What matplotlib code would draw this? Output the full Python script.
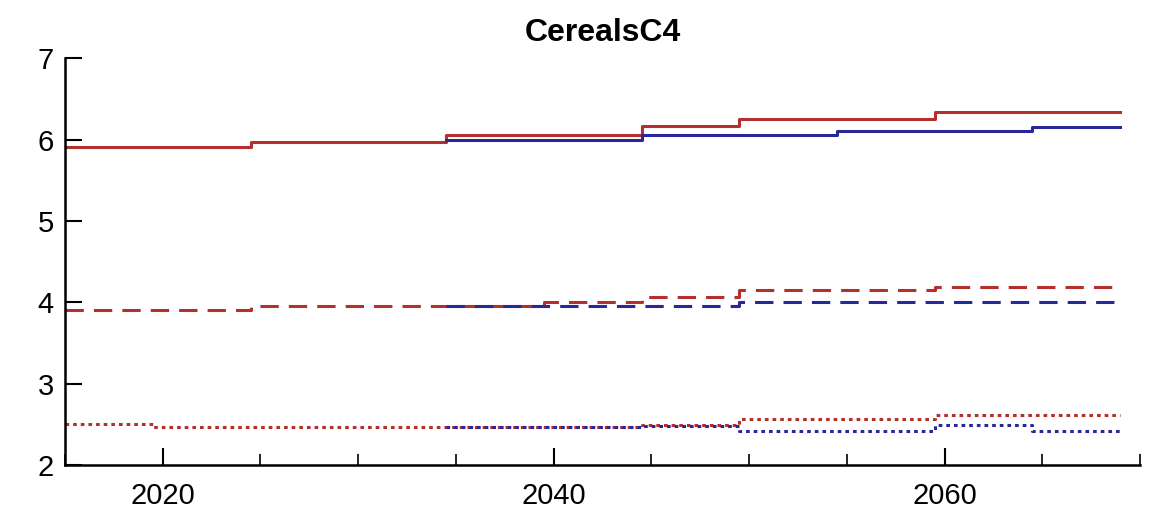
# CerealsC4 step chart
import matplotlib
matplotlib.use("Agg")
import matplotlib.pyplot as plt
from matplotlib.ticker import MultipleLocator

# data: years where each level starts, plus the last year
red_solid_x = [2015, 2024.5, 2034.5, 2044.5, 2049.5, 2059.5, 2069]
red_solid_y = [5.91, 5.97, 6.05, 6.16, 6.25, 6.34, 6.34]
blue_solid_x = [2034.5, 2044.5, 2054.5, 2064.5, 2069]
blue_solid_y = [6.00, 6.06, 6.11, 6.15, 6.15]

red_dash_x = [2015, 2024.5, 2039.5, 2044.5, 2049.5, 2059.5, 2069]
red_dash_y = [3.90, 3.95, 4.00, 4.06, 4.15, 4.19, 4.19]
blue_dash_x = [2034.5, 2049.5, 2069]
blue_dash_y = [3.95, 4.00, 4.00]

red_dot_x = [2015, 2019.5, 2044.5, 2049.5, 2059.5, 2069]
red_dot_y = [2.51, 2.47, 2.49, 2.56, 2.62, 2.62]
blue_dot_x = [2034.5, 2044.5, 2049.5, 2059.5, 2064.5, 2069]
blue_dot_y = [2.47, 2.48, 2.42, 2.49, 2.42, 2.42]

red = "#b3302e"
blue = "#27289a"
lw = 2.2

fig = plt.figure(figsize=(11.53, 5.19), dpi=100)
ax = fig.add_axes([0.0564, 0.104, 0.9323, 0.784])

ax.plot(red_solid_x, red_solid_y, color=red, lw=lw, drawstyle="steps-post")
ax.plot(blue_solid_x, blue_solid_y, color=blue, lw=lw, drawstyle="steps-post")
ax.plot(red_dash_x, red_dash_y, color=red, lw=lw, drawstyle="steps-post",
        linestyle=(0, (6.0, 3.3)))
ax.plot(blue_dash_x, blue_dash_y, color=blue, lw=lw, drawstyle="steps-post",
        linestyle=(0, (6.0, 3.3)))
ax.plot(red_dot_x, red_dot_y, color=red, lw=lw, drawstyle="steps-post",
        linestyle=(0, (1.2, 1.3)))
ax.plot(blue_dot_x, blue_dot_y, color=blue, lw=lw, drawstyle="steps-post",
        linestyle=(0, (1.2, 1.3)))

ax.set_xlim(2015, 2070)
ax.set_ylim(2, 7)
ax.xaxis.set_major_locator(MultipleLocator(20))
ax.xaxis.set_minor_locator(MultipleLocator(5))
ax.yaxis.set_major_locator(MultipleLocator(1))

for s in ["top", "right"]:
    ax.spines[s].set_visible(False)
for s in ["left", "bottom"]:
    ax.spines[s].set_linewidth(1.8)

ax.tick_params(axis="both", which="major", direction="in", length=12, width=1.5,
               labelsize=21)
ax.tick_params(axis="x", which="major", pad=12)
ax.tick_params(axis="y", which="major", pad=8)
ax.tick_params(axis="x", which="minor", direction="in", length=8, width=1.2)
for lab in ax.get_xticklabels() + ax.get_yticklabels():
    lab.set_family("Liberation Sans")

ax.set_title("CerealsC4", fontsize=23, fontweight="bold", family="Liberation Sans", pad=12)

fig.savefig("out.png", dpi=100)
